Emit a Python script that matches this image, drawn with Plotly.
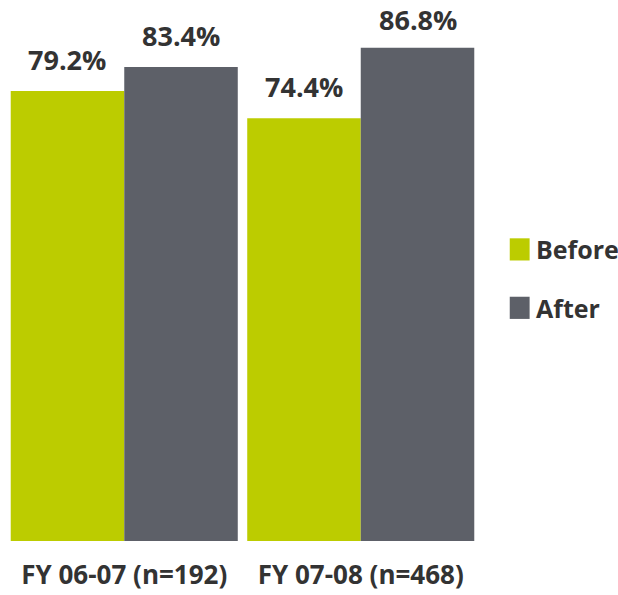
import plotly.graph_objects as go

# Survey periods and the share of positive responses before / after
categories = ["FY 06-07 (n=192)", "FY 07-08 (n=468)"]
series_names = ["Before", "After"]
before_values = [79.2, 74.4]
after_values = [83.4, 86.8]
series_values = [before_values, after_values]
series_colors = ["#BCCC00", "#5D6068"]

FONT = "Open Sans"
TEXT_COLOR = "#333333"
Y_MAX = 95.2
PLOT_HEIGHT_PX = 541

fig = go.Figure()
for name, vals, color in zip(series_names, series_values, series_colors):
    fig.add_trace(go.Bar(
        x=categories,
        y=vals,
        name=name,
        marker=dict(color=color, line=dict(width=0)),
        showlegend=False,
        hoverinfo="skip",
    ))

# Value labels above each bar; keep the tallest one inside the page
label_size = 27
label_box = label_size * 1.36 + 3
for i, vals in enumerate(series_values):
    offset = -0.24 if i == 0 else 0.24
    for j, v in enumerate(vals):
        space_px = (Y_MAX - v) / Y_MAX * PLOT_HEIGHT_PX
        shift = max(0, min(11, space_px - label_box))
        fig.add_annotation(
            x=j + offset, y=v, xref="x", yref="y",
            text=f"{v:.1f}%",
            showarrow=False,
            yanchor="bottom",
            yshift=shift,
            font=dict(family=FONT, size=label_size, color=TEXT_COLOR, weight="bold"),
        )

# Legend drawn as swatches with labels at the right
legend_y = [0.539, 0.431]
for name, color, ly in zip(series_names, series_colors, legend_y):
    fig.add_shape(
        type="rect", xref="paper", yref="paper",
        x0=1.065, x1=1.107, y0=ly - 0.0205, y1=ly + 0.0205,
        fillcolor=color, line=dict(width=0),
    )
    fig.add_annotation(
        x=1.116, y=ly, xref="paper", yref="paper",
        text=name, showarrow=False, xanchor="left", yanchor="middle",
        font=dict(family=FONT, size=25, color=TEXT_COLOR, weight="bold"),
    )

fig.update_layout(
    width=618, height=595,
    margin=dict(l=6, r=139, t=0, b=54),
    paper_bgcolor="white",
    plot_bgcolor="white",
    barmode="group",
    bargap=0.04,
    bargroupgap=0,
    showlegend=False,
    xaxis=dict(
        range=[-0.5, 1.5],
        showgrid=False, zeroline=False, showline=False, ticks="",
        tickfont=dict(family=FONT, size=26, color=TEXT_COLOR, weight="bold"),
        ticklabelstandoff=16,
    ),
    yaxis=dict(
        range=[0, Y_MAX],
        showgrid=False, zeroline=False, showline=False,
        showticklabels=False, ticks="",
    ),
)

fig.write_html("out.html")
